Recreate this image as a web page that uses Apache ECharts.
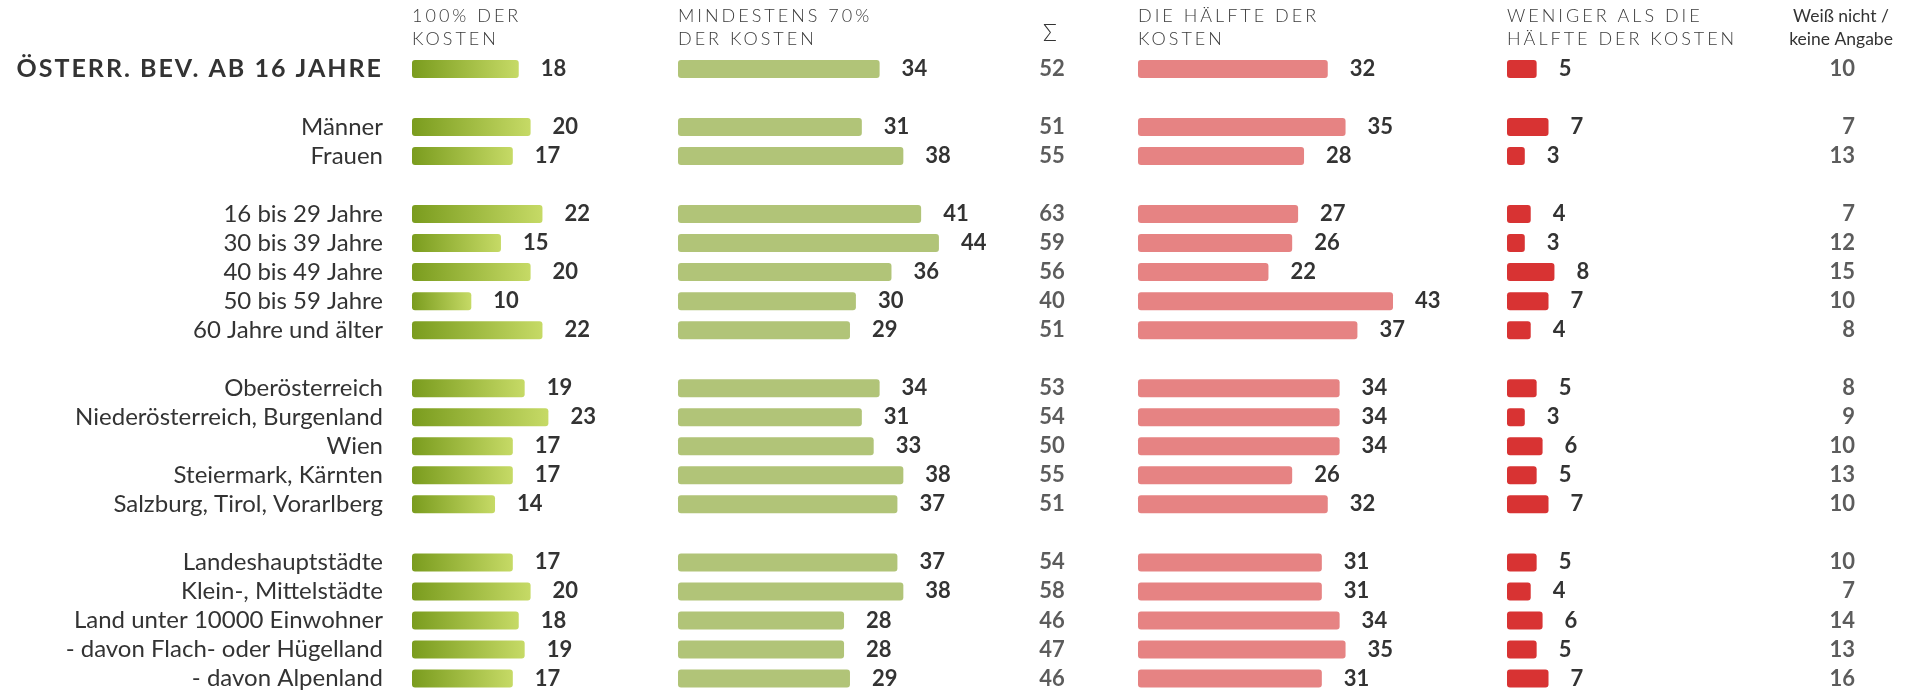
<!DOCTYPE html>
<html>
<head>
<meta charset="utf-8">
<script src="https://cdn.jsdelivr.net/npm/echarts@6/dist/echarts.min.js"></script>
<style>
  html, body { margin: 0; padding: 0; background: #fff; }
  #chart { width: 1919px; height: 693px; }
</style>
</head>
<body>
<div id="chart"></div>
<script>
// Zeilen (leere Strings = Abstand zwischen Gruppen)
var categories = [
  'ÖSTERR. BEV. AB 16 JAHRE', '',
  'Männer', 'Frauen', '',
  '16 bis 29 Jahre', '30 bis 39 Jahre', '40 bis 49 Jahre', '50 bis 59 Jahre', '60 Jahre und älter', '',
  'Oberösterreich', 'Niederösterreich, Burgenland', 'Wien', 'Steiermark, Kärnten', 'Salzburg, Tirol, Vorarlberg', '',
  'Landeshauptstädte', 'Klein-, Mittelstädte', 'Land unter 10000 Einwohner', '- davon Flach- oder Hügelland', '- davon Alpenland'
]
var voll       = [18, '-', 20, 17, '-', 22, 15, 20, 10, 22, '-', 19, 23, 17, 17, 14, '-', 17, 20, 18, 19, 17]
var mind70     = [34, '-', 31, 38, '-', 41, 44, 36, 30, 29, '-', 34, 31, 33, 38, 37, '-', 37, 38, 28, 28, 29]
var summe      = [52, '-', 51, 55, '-', 63, 59, 56, 40, 51, '-', 53, 54, 50, 55, 51, '-', 54, 58, 46, 47, 46]
var haelfte    = [32, '-', 35, 28, '-', 27, 26, 22, 43, 37, '-', 34, 34, 34, 26, 32, '-', 31, 31, 34, 35, 31]
var weniger    = [5, '-', 7, 3, '-', 4, 3, 8, 7, 4, '-', 5, 3, 6, 5, 7, '-', 5, 4, 6, 5, 7]
var weissNicht = [10, '-', 7, 13, '-', 7, 12, 15, 10, 8, '-', 8, 9, 10, 13, 10, '-', 10, 7, 14, 13, 16]
var headers = [
  '100% DER\nKOSTEN',
  'MINDESTENS 70%\nDER KOSTEN',
  'Σ',
  'DIE HÄLFTE DER\nKOSTEN',
  'WENIGER ALS DIE\nHÄLFTE DER KOSTEN',
  'Weiß nicht /\nkeine Angabe'
]

// zrender kennt kein letterSpacing -> Sperrsatz direkt am Canvas-Kontext (nach Schriftgröße)
var SPACING = { '18px': '3px', '25px': '2px' }
function spacingFor(font) {
  for (var k in SPACING) if (font.indexOf(k) >= 0) return SPACING[k]
  return '0px'
}
var proto = CanvasRenderingContext2D.prototype
if ('letterSpacing' in proto) {
  var origFill = proto.fillText, origMeasure = proto.measureText
  proto.fillText = function () {
    this.letterSpacing = spacingFor(this.font)
    return origFill.apply(this, arguments)
  }
  proto.measureText = function (t) {
    this.letterSpacing = spacingFor(this.font)
    return origMeasure.call(this, t)
  }
}

var FONT = 'Lato, "Noto Sans", sans-serif'
var TXT = '#333'
var PX = 5.93          // Pixel pro Prozentpunkt
var TOP = 54.4
var ROWH = 29.14
var gridH = categories.length * ROWH

var mychart = echarts.init(document.getElementById('chart'))

var barCols = [
  { left: 412,  max: 40, data: voll, color: new echarts.graphic.LinearGradient(0, 0.6, 1, 0.4, [
      { offset: 0, color: '#7a9c1e' }, { offset: 1, color: '#c6da66' }]) },
  { left: 678,  max: 50, data: mind70,  color: '#b1c478' },
  { left: 1138, max: 50, data: haelfte, color: '#e68383' },
  { left: 1507, max: 20, data: weniger, color: '#d83333' }
]
var textCols = [
  { left: 1052, data: summe, align: 'center' },
  { left: 1855, data: weissNicht, align: 'right' }
]

var grid = [], xAxis = [], yAxis = [], series = []

function catAxis(idx, showLabels) {
  return {
    type: 'category', gridIndex: idx, inverse: true,
    data: categories.map(function (c, i) {
      if (i === 0) {
        return { value: c, textStyle: { fontWeight: 'bold', fontSize: 25, color: TXT } }
      }
      return c
    }),
    axisLine: { show: false }, axisTick: { show: false }, splitLine: { show: false },
    axisLabel: {
      show: showLabels, margin: 29, fontSize: 24, color: TXT, fontFamily: FONT,
      padding: [4, 0, 0, 0], interval: 0
    }
  }
}

barCols.forEach(function (col, i) {
  grid.push({ left: col.left, top: TOP, width: col.max * PX, height: gridH })
  xAxis.push({ type: 'value', gridIndex: i, min: 0, max: col.max, show: false })
  yAxis.push(catAxis(i, i === 0))
  series.push({
    type: 'bar', xAxisIndex: i, yAxisIndex: i, data: col.data,
    barWidth: 18, silent: true,
    itemStyle: { color: col.color, borderRadius: 3 },
    label: {
      show: true, position: 'right', distance: 22,
      fontSize: 22, fontWeight: 'bold', color: TXT, fontFamily: FONT,
      padding: [5, 0, 0, 0]
    }
  })
})

textCols.forEach(function (col, j) {
  var i = barCols.length + j
  grid.push({ left: col.left, top: TOP, width: 1, height: gridH })
  xAxis.push({ type: 'value', gridIndex: i, min: 0, max: 1, show: false })
  yAxis.push(catAxis(i, false))
  series.push({
    type: 'scatter', xAxisIndex: i, yAxisIndex: i, silent: true,
    symbolSize: 1, itemStyle: { color: 'rgba(0,0,0,0)' },
    data: col.data.map(function (v, k) { return v === '-' ? null : [0, k, v] }),
    label: {
      show: true, position: 'inside', align: col.align,
      fontSize: 22, fontWeight: 'bold', color: TXT, fontFamily: FONT,
      padding: [5, 0, 0, 0],
      formatter: function (p) { return p.value[2] }
    }
  })
})

// Spaltenköpfe
var headPos = [[412, 'left'], [678, 'left'], [1050, 'center'], [1138, 'left'], [1507, 'left'], [1841, 'center']]
var graphic = headers.map(function (h, i) {
  var sigma = h === 'Σ'
  var plain = i === headers.length - 1
  return {
    type: 'text', x: headPos[i][0], y: sigma ? 22 : 4.5,
    style: {
      text: h, fill: sigma || plain ? '#333' : '#3a3a3a', align: headPos[i][1], verticalAlign: 'top',
      font: (sigma ? '300 23px ' : plain ? '400 17.5px ' : '300 18px ') + FONT,
      lineHeight: 23
    },
    silent: true
  }
})

mychart.setOption({
  animation: false,
  backgroundColor: '#fff',
  grid: grid, xAxis: xAxis, yAxis: yAxis, series: series,
  graphic: graphic
})
</script>
</body>
</html>
